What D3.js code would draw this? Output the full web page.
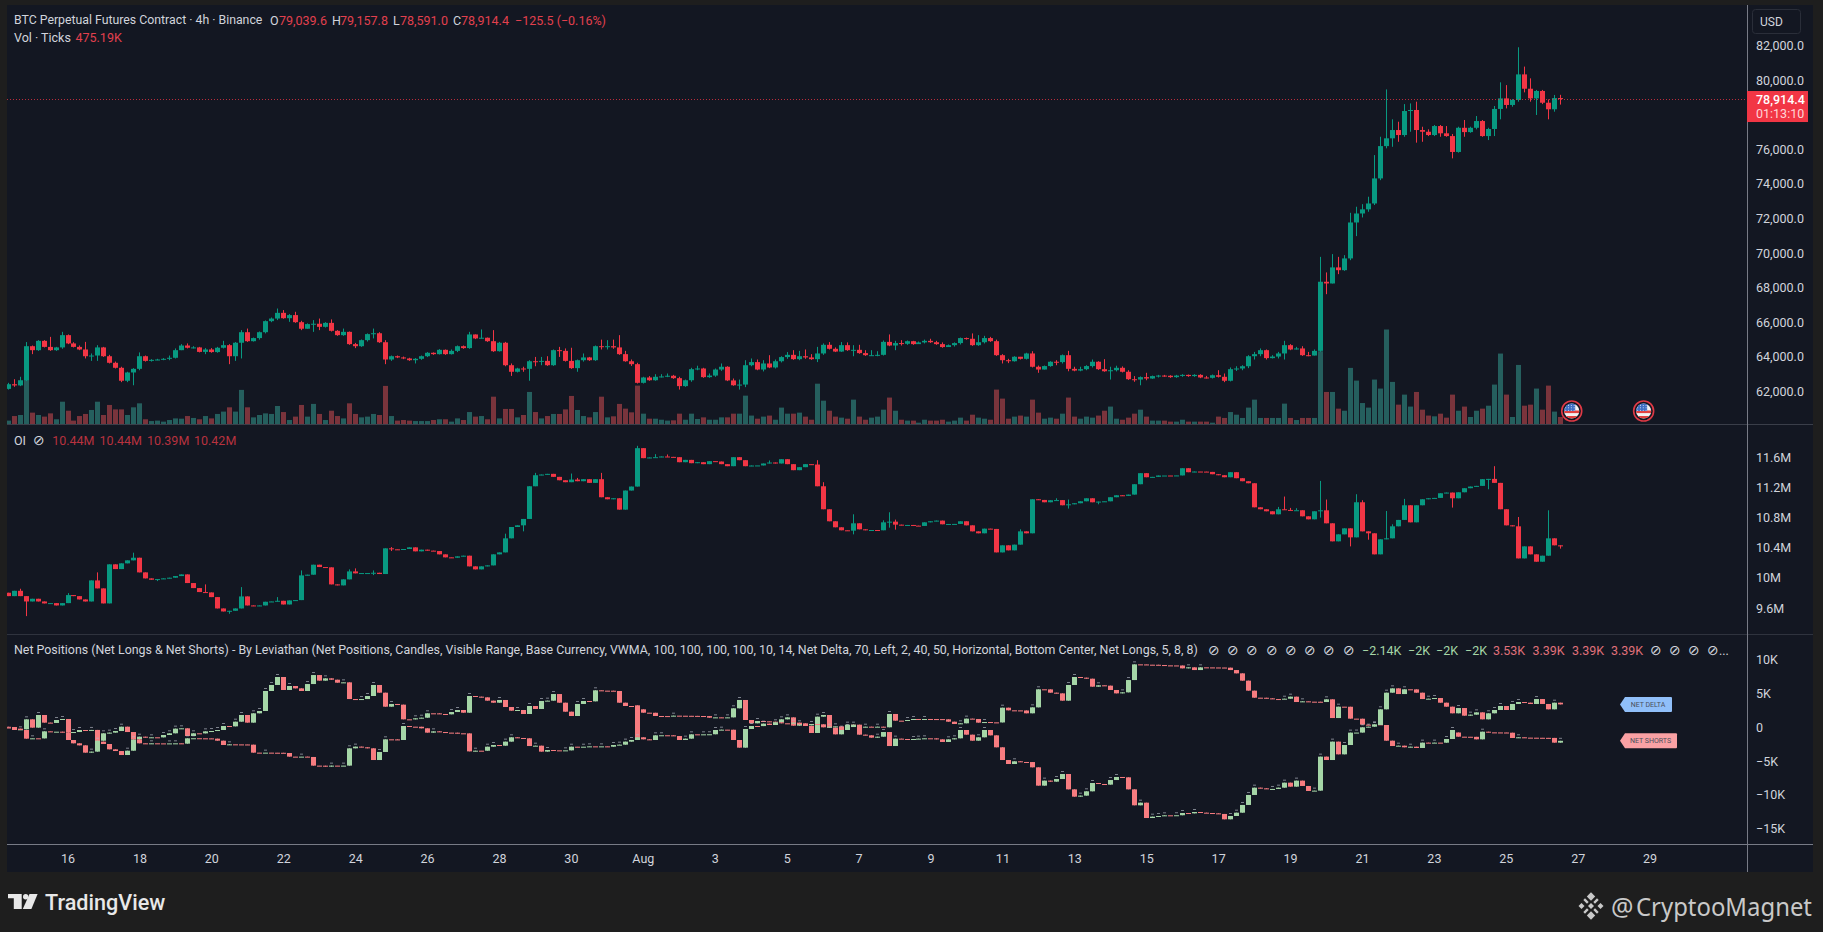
<!DOCTYPE html>
<html>
<head>
<meta charset="utf-8">
<script src="https://cdnjs.cloudflare.com/ajax/libs/d3/7.8.5/d3.min.js"></script>
<style>
html,body{margin:0;padding:0;background:#1e1e1e;overflow:hidden;}
svg{display:block;}
text{font-family:"Roboto",sans-serif;}
</style>
</head>
<body>
<script>
// values, one entry per 4h bar (first bar Jul 14 08:00)
var priceFirstOpen = 62140;
var priceClose = [
62410,62340,62640,64610,64380,64920,64570,64380,64540,65250,64770,64570,64420,64030,64070,64540,64030,63650,63360,62610,
63090,63300,64030,63760,63820,63840,63880,63940,64380,64650,64520,64540,64280,64420,64270,64520,64670,64030,64810,65420,
64900,65080,65420,66060,66210,66540,66230,66410,66000,65620,65890,65910,65730,65960,65500,65250,65440,64730,64610,64960,
65310,65360,64840,63840,64030,63960,63900,63800,63880,64030,64230,64150,64400,64150,64340,64610,64500,65290,65060,65100,
64900,64320,64810,63510,63130,63320,63300,63740,63730,63760,63510,64380,64340,63760,63340,63800,63960,63800,64610,64570,
64610,64540,64150,63740,63570,62490,62800,62640,62840,62860,62900,62760,62300,62640,63280,63320,62820,62910,63260,63420,
62630,62350,62390,63510,63690,63260,63610,63380,63740,63980,64110,63860,64030,63960,63860,64190,64690,64460,64300,64670,
64380,64400,64210,64090,64090,64110,64860,64650,64790,64750,64900,64730,64830,64920,64840,64730,64560,64670,64790,65080,
65040,64670,64840,65080,64900,64090,63800,63740,64000,63880,64190,63420,63260,63460,63710,63690,64090,63300,63200,63280,
63460,63710,63280,63160,63220,63360,63130,62700,62680,62820,62740,62880,62910,62900,62820,62910,62950,62880,62950,62800,
62780,62930,62840,62610,63280,63320,63450,64030,64150,64380,63920,64010,64190,64670,64420,64480,64090,64070,64340,68340,
68240,69170,69010,69690,71770,72290,72530,72870,74320,76190,76640,77120,76830,78220,78280,77120,77020,76830,77350,76930,
76770,75850,77250,77000,77250,77640,76770,77180,78340,78950,78570,78860,80340,79510,78950,79380,78700,78320,78970,78914.4
];
var priceHigh = [
62490,62700,62840,64850,64650,64960,64960,65150,64570,65440,65290,64840,64650,64860,64190,64670,64570,64110,63720,63420,
63130,63340,64250,64070,63860,63880,63920,64070,64480,64730,64770,64610,64570,64500,64500,64570,64920,64730,64850,65540,
65630,65110,65460,66100,66270,66790,66700,66470,66600,66080,65930,66120,66210,66000,66160,65540,65630,65460,64800,65000,
65350,65630,65420,64960,64070,64070,64010,63940,63920,64070,64270,64250,64440,64420,64420,64650,64650,65440,65290,65580,
65110,65540,64860,64860,63610,63360,63420,63800,63990,63990,64030,64420,64570,64480,64520,63840,64190,63990,64650,64990,
64960,64990,65250,64340,63840,63650,62840,62880,62990,62990,63030,62950,62840,62680,63360,63480,63360,63030,63320,63610,
63450,62740,62680,63800,63900,63840,63800,64090,63840,64030,64270,64380,64340,64420,64150,64570,64770,64850,64540,64850,
64830,64670,64690,64380,64380,64320,64940,65290,64920,64960,64940,64920,64880,64990,65040,64920,64830,64710,64830,65110,
65110,65350,65250,65210,65150,64990,64150,63880,64030,63990,64230,64320,63490,63490,63740,63800,64130,64340,63420,63420,
63510,63840,63740,63860,63420,63480,63440,63220,62880,62860,63070,62910,62950,62950,62930,62950,62990,62970,62990,62990,
62890,62970,63220,63030,63380,63450,63510,64090,64280,64480,64420,64090,64280,64920,64730,64570,64610,64280,64420,69780,
68880,69940,69780,69880,72330,72680,72830,73260,75670,76730,79470,77740,77600,78620,78660,78760,77310,77160,77410,77410,
77350,76890,77310,77700,77310,77930,77700,77250,78510,79880,79720,78910,81910,80790,80110,79440,79440,78890,79150,79157.8
];
var priceLow = [
62100,62260,62300,62590,64150,64340,64540,64340,64340,64460,64730,64540,64380,63900,63760,63760,63990,63610,63320,62530,
62530,62350,63220,63720,63720,63800,63800,63800,63900,64380,64480,64480,64250,64150,64230,64230,64480,63570,63760,63900,
64860,64880,64990,65350,66000,66120,66200,66020,65960,65540,65620,65440,65540,65690,65460,65210,65210,64690,64500,64570,
64880,65060,64800,63570,63760,63920,63860,63760,63610,63820,63980,64110,64130,64110,64130,64270,64460,64460,65020,65060,
64860,64280,64300,63450,62890,63090,63130,62610,63450,63510,63470,63470,63990,63720,63300,63130,63720,63760,63760,64420,
64420,64460,64110,63710,63470,62450,62450,62610,62610,62800,62820,62720,62100,62260,62550,63220,62780,62780,62840,63180,
62590,62320,62100,62240,63450,63220,63150,63340,63320,63670,63880,63820,63800,63880,63820,63690,64110,64420,64270,64280,
64340,64030,64170,64050,64050,64030,64070,64610,64380,64650,64690,64690,64770,64770,64800,64690,64520,64570,64590,64710,
64990,64630,64630,64770,64860,64050,63610,63630,63720,63840,63840,63380,63070,63260,63420,63510,63610,63160,63160,63160,
63220,63380,63240,63130,62680,63150,63090,62660,62550,62350,62640,62720,62800,62840,62780,62780,62840,62840,62840,62760,
62740,62740,62800,62530,62570,63180,63220,63340,63840,64030,63840,63900,63900,63840,64380,64420,64050,64030,64070,64290,
67620,68240,68780,68970,69590,70980,72060,72390,72780,74220,76060,76150,76440,76730,77020,76390,76440,76770,76770,76730,
76730,75480,75810,76730,76960,77160,76730,76540,76770,77740,78370,78470,78760,79300,78760,77990,78620,77740,78180,78591.0
];
// volume in thousands of ticks
var volumes = [
230,540,610,2980,770,610,500,720,320,1510,900,230,540,680,950,1510,610,1290,990,990,
610,1130,1400,320,200,230,160,270,380,360,540,410,320,540,380,680,840,1130,840,2310,
1130,450,610,720,680,1220,810,270,500,1290,500,1360,680,270,900,540,380,1400,680,450,
500,680,610,2580,540,230,270,230,200,200,200,270,320,320,160,380,270,810,500,540,
320,1850,380,1020,1020,450,610,2170,810,380,540,680,680,990,1900,950,540,450,810,1850,
450,520,1360,1040,790,2600,700,360,360,290,230,250,700,290,700,340,450,290,290,450,
450,700,700,1920,570,360,500,570,290,1110,700,700,770,500,290,2730,1580,900,500,430,
360,1650,500,290,430,500,970,1790,900,290,230,230,90,290,230,230,290,160,230,430,
230,630,430,360,290,2330,1720,360,500,570,500,1650,770,360,430,360,700,1790,500,360,
500,430,570,900,1180,360,290,430,700,970,500,230,230,230,160,160,290,160,160,160,
160,90,500,410,810,630,410,1110,1650,410,410,410,410,1380,410,270,410,410,410,4930,
2170,2170,1040,900,3800,2940,1420,1110,3010,2400,6400,2850,1310,1990,1180,2170,970,570,520,700,
430,1990,900,1180,475,900,1040,1240,2670,4770,1990,475,4000,1240,1310,2400,970,2600,840,475
];
// open interest in millions
var oiFirstOpen = 9.803;
var oiClose = [
9.758,9.829,9.758,9.687,9.723,9.687,9.661,9.665,9.634,9.665,9.772,9.758,9.714,9.687,9.967,9.861,9.661,10.181,10.118,10.194,
10.234,10.269,10.074,9.994,9.976,9.985,9.994,10.003,10.025,10.047,9.932,9.865,9.812,9.807,9.745,9.594,9.554,9.563,9.594,9.754,
9.634,9.625,9.634,9.683,9.687,9.696,9.647,9.701,9.705,10.034,10.043,10.176,10.145,10.141,9.914,9.901,9.981,10.087,10.061,10.065,
10.065,10.069,10.052,10.394,10.381,10.376,10.385,10.407,10.354,10.376,10.363,10.358,10.314,10.274,10.269,10.287,10.296,10.154,10.114,10.154,
10.167,10.314,10.340,10.527,10.678,10.700,10.785,11.220,11.367,11.376,11.385,11.345,11.300,11.274,11.309,11.287,11.314,11.265,11.314,11.074,
11.047,11.060,10.909,11.163,11.216,11.727,11.594,11.603,11.607,11.616,11.611,11.607,11.540,11.571,11.527,11.540,11.514,11.554,11.549,11.514,
11.487,11.607,11.567,11.487,11.496,11.497,11.523,11.536,11.523,11.580,11.514,11.434,11.474,11.514,11.509,11.220,10.914,10.754,10.674,10.634,
10.629,10.727,10.647,10.634,10.638,10.634,10.740,10.749,10.709,10.700,10.705,10.696,10.692,10.740,10.754,10.763,10.714,10.718,10.719,10.754,
10.700,10.620,10.594,10.656,10.652,10.340,10.434,10.367,10.443,10.620,10.594,11.047,11.038,11.007,11.034,11.036,10.967,10.980,10.994,11.020,
11.060,11.007,11.016,11.020,11.074,11.100,11.092,11.109,11.247,11.394,11.340,11.345,11.363,11.363,11.362,11.364,11.460,11.407,11.416,11.415,
11.411,11.380,11.367,11.340,11.407,11.327,11.287,11.260,10.940,10.914,10.887,10.847,10.914,10.905,10.900,10.901,10.820,10.780,10.887,10.900,
10.727,10.487,10.580,10.660,10.540,11.007,10.620,10.594,10.314,10.514,10.527,10.687,10.772,10.967,10.740,10.967,11.047,11.060,11.065,11.127,
11.136,11.060,11.140,11.194,11.216,11.225,11.314,11.318,11.265,10.914,10.700,10.687,10.260,10.420,10.314,10.216,10.296,10.527,10.434,10.420
];
// only bars with a visible wick: [bar, value]
var oiHighWicks = [[2,9.856],[10,9.798],[15,10.074],[21,10.336],[33,9.914],[39,9.878],[45,9.745],[49,10.100],[57,10.114],[58,10.127],[61,10.100],[64,10.411],[83,10.589],[88,11.398],[94,11.389],[95,11.331],[99,11.398],[105,11.758],[108,11.647],[110,11.643],[127,11.563],[135,11.567],[136,11.274],[141,10.847],[146,10.767],[147,10.874],[148,10.776],[169,10.647],[175,11.060],[177,11.043],[212,10.945],[213,11.083],[214,10.932],[215,10.928],[219,11.291],[220,11.043],[225,11.114],[226,11.034],[230,10.891],[231,10.714],[233,11.052],[248,11.487],[252,10.811],[257,10.900]];
var oiLowWicks = [[3,9.492],[25,9.958],[37,9.523],[61,10.038],[64,10.358],[86,10.620],[141,10.580],[147,10.669],[148,10.643],[177,10.923],[182,10.980],[219,10.803],[224,10.420],[227,10.509],[241,10.936],[247,11.180],[259,10.390]];
// net position indicator, two candle series
var netShortsFirstOpen = 80;
var netShortsClose = [
40,-400,-300,1180,-50,1820,690,640,1080,1230,-750,-700,-400,-450,-390,-2120,-2470,-3260,-3510,-4100,
-3460,-1780,-1390,-1530,-1480,-1490,-1140,-890,-200,-150,-1290,-890,-900,-600,-550,-400,190,140,830,1820,
690,2070,2410,5370,6260,7440,5520,6110,5760,5370,6400,7730,6900,7240,7040,6600,6650,4180,4040,4180,
4630,6260,5120,3050,3450,3350,1180,1170,1330,1420,2070,2060,1970,1920,2260,2560,2160,4630,4530,4430,
3940,3640,4040,3000,2460,2560,1970,3150,2710,3890,3940,4920,3640,2310,1670,3450,3890,3840,5470,5420,
5410,5370,3640,3150,3140,-1630,2160,2150,1670,1660,1650,1720,1710,1700,1690,1670,1660,1420,1470,1420,
1470,2810,4040,1080,590,930,880,830,730,1180,1470,240,590,190,-840,1570,1820,-50,-1040,-200,
390,190,0,90,40,90,0,1970,980,970,1080,1230,1180,1230,1220,1210,1180,830,490,590,
1280,1230,690,780,730,720,2900,2510,2500,2490,2070,2950,5620,5610,5120,5020,3940,6260,7440,7340,
7190,6010,6210,6160,5520,5020,5170,6990,9310,9300,9260,9250,9210,9160,9150,9140,8720,8870,8470,8870,
8860,8850,8840,8820,8470,7980,6900,5420,4380,4370,4280,4180,4170,4230,4530,3740,3840,3790,3780,3740,
4140,1370,3050,3040,1280,1270,390,340,440,340,-1980,-2770,-2720,-2960,-2870,-3060,-2270,-2320,-2270,-2280,
-1730,-400,-1390,-1400,-1410,-1780,-650,-750,-760,-770,-800,-1580,-1480,-1530,-1540,-1550,-1560,-1570,-2270,-2000
];
var netShortsOpenBreaks = [[105,3250],[106,2660],[241,-1730],[242,-770]];
var netDeltaFirstOpen = -30;
var netDeltaClose = [
-50,-200,-400,-1680,-1630,-1640,-600,-650,-650,-750,-1880,-2370,-2670,-3750,-3600,-1980,-890,-790,-550,90,
-700,-1780,-2370,-2420,-2370,-2380,-2390,-2380,-2370,-2420,-1630,-1620,-1630,-1640,-1680,-1980,-2620,-2520,-2530,-2540,
-2570,-3750,-3760,-3750,-3760,-3770,-3800,-4340,-4350,-4340,-4390,-5670,-5680,-5820,-5670,-5680,-5670,-3110,-2860,-2960,
-3110,-4840,-3650,-1780,-1790,-1880,190,90,80,-150,-790,-600,-700,-790,-800,-890,-900,-3560,-3460,-3470,
-2870,-2620,-2720,-2120,-1480,-1580,-1630,-2770,-2720,-3600,-3360,-3410,-3420,-3410,-2870,-2880,-2870,-2820,-2830,-2820,
-2870,-2620,-2570,-2120,-1880,-1480,-1780,-1880,-1190,-1180,-1190,-1290,-1880,-1680,-1040,-1050,-1040,-1030,-400,-350,
-360,-1880,-3010,-250,190,180,540,340,740,590,580,690,440,290,490,440,0,90,140,-400,
40,390,-1090,-1190,-1530,-1390,-700,-2770,-1680,-1730,-1780,-1730,-1680,-1630,-1640,-1780,-2170,-1780,-1630,-400,
-1090,-1980,-1480,-400,-1190,-2960,-4840,-5430,-5030,-5130,-5140,-5920,-8630,-7890,-8040,-7650,-6910,-9180,-10260,-10110,
-9470,-8240,-8390,-8480,-7800,-7350,-7400,-9180,-11540,-11150,-13420,-13220,-13120,-13020,-13030,-13010,-12680,-12730,-12530,-12630,
-12680,-12730,-12820,-13610,-13120,-12630,-11490,-10010,-8930,-9030,-9130,-9120,-8930,-8190,-8780,-7890,-8680,-9420,-9370,-4340,
-4840,-2120,-4000,-2620,-790,-780,0,90,340,2660,5120,5760,4920,5620,5610,5120,4180,4230,4330,3640,
3050,2070,2850,1720,1870,2210,1180,2070,2560,3150,2560,3450,3740,3640,3450,4180,3450,2660,3640,3390
];
var priceTicks = [62000,64000,66000,68000,70000,72000,74000,76000,78000,80000,82000];
var priceTickHidden = 78000;
var oiTicks = [9.6,10,10.4,10.8,11.2,11.6];
var oiTickLabels = ["9.6M","10M","10.4M","10.8M","11.2M","11.6M"];
var netTicks = [-15000,-10000,-5000,0,5000,10000];
var netTickLabels = ["\u221215K","\u221210K","\u22125K","0","5K","10K"];
var dayTickDates = ["07-16","07-18","07-20","07-22","07-24","07-26","07-28","07-30","08-01","08-03","08-05","08-07","08-09","08-11","08-13","08-15","08-17","08-19","08-21","08-23","08-25","08-27","08-29"];
var dayTickLabels = ["16","18","20","22","24","26","28","30","Aug","3","5","7","9","11","13","15","17","19","21","23","25","27","29"];
var eventDates = ["08-26T20:00","08-28T20:00"];
var lastPrice = 78914.4;
var netMarkers = [{name:"NET DELTA",value:3390,fill:"#90bff9"},{name:"NET SHORTS",value:-2000,fill:"#faa1a4"}];

var width = 1823, height = 932;
var paneL = 7, paneT = 5, axisX = 1747, paneR = 1813, timeT = 844, paneB = 872;
var priceB = 424, oiB = 634;
var upColor = "#089981", downColor = "#f23645";
var netUp = "#a5d6a7", netDown = "#f77c80";

var svg = d3.select("body").append("svg")
    .attr("width", width).attr("height", height);

svg.append("rect").attr("width", width).attr("height", height).attr("fill", "#1e1e1e");
svg.append("rect").attr("x", paneL).attr("y", paneT).attr("width", paneR - paneL).attr("height", paneB - paneT).attr("fill", "#131722");

svg.append("defs").append("clipPath").attr("id", "plotClip")
    .append("rect").attr("x", paneL).attr("y", paneT).attr("width", axisX - paneL).attr("height", timeT - paneT);

function parseDay(s){
    return new Date(Date.parse("2025-" + s.replace(/^(\d\d-\d\d)$/, "$1T00:00") + ":00Z"));
}
var startDate = new Date(Date.UTC(2025, 6, 14, 8));
var barDates = d3.range(priceClose.length).map(function(i){ return d3.utcHour.offset(startDate, 4 * i); });

// x range from the 16th and the 25th tick
var xScale = d3.scaleUtc()
    .domain([parseDay("07-16"), parseDay("08-25")])
    .range([67.5, 1505.8]);
var priceY = d3.scaleLinear().domain([62000, 82000]).range([391.3, 45.7]);
var volY = d3.scaleLinear().domain([0, d3.max(volumes)]).range([priceB, priceB - 94.5]);
var oiY = d3.scaleLinear().domain([9.6, 11.6]).range([608, 457.7]);
var netY = d3.scaleLinear().domain([-15000, 10000]).range([828.7, 659.7]);

function makeRows(closes, firstOpen, highs, lows, highWicks, lowWicks, openBreaks){
    var hi = new Map(highWicks || []), lo = new Map(lowWicks || []), br = new Map(openBreaks || []);
    return closes.map(function(c, i){
        var o = br.has(i) ? br.get(i) : (i == 0 ? firstOpen : closes[i - 1]);
        var h = highs ? highs[i] : (hi.has(i) ? hi.get(i) : Math.max(o, c));
        var l = lows ? lows[i] : (lo.has(i) ? lo.get(i) : Math.min(o, c));
        return {i: i, date: barDates[i], o: o, c: c, h: h, l: l};
    });
}

var plot = svg.append("g").attr("clip-path", "url(#plotClip)");

function drawCandles(cls, rows, y, up, down, bodyW){
    var g = plot.append("g").attr("class", cls);
    function color(d){ return d.c >= d.o ? up : down; }
    g.selectAll("line").data(rows).enter().append("line")
        .attr("x1", function(d){ return Math.round(xScale(d.date)) + 0.5; })
        .attr("x2", function(d){ return Math.round(xScale(d.date)) + 0.5; })
        .attr("y1", function(d){ return y(d.h); })
        .attr("y2", function(d){ return y(d.l); })
        .attr("stroke", color).attr("stroke-width", 1);
    g.selectAll("rect").data(rows).enter().append("rect")
        .attr("x", function(d){ return Math.round(xScale(d.date)) + 0.5 - bodyW / 2; })
        .attr("width", bodyW)
        .attr("y", function(d){ return y(Math.max(d.o, d.c)); })
        .attr("height", function(d){ return Math.max(1, Math.abs(y(d.o) - y(d.c))); })
        .attr("fill", color);
    return g;
}

// volume sits under the price candles
var priceRows = makeRows(priceClose, priceFirstOpen, priceHigh, priceLow);
plot.append("g").selectAll("rect").data(priceRows).enter().append("rect")
    .attr("x", function(d){ return Math.round(xScale(d.date)) - 2; })
    .attr("width", 5)
    .attr("y", function(d){ return volY(volumes[d.i]); })
    .attr("height", function(d){ return priceB - volY(volumes[d.i]); })
    .attr("fill", function(d){ return d.c >= d.o ? "#255f5e" : "#7a343c"; });

// dotted last price line
svg.append("line")
    .attr("x1", paneL).attr("x2", axisX)
    .attr("y1", Math.round(priceY(lastPrice)) + 0.5).attr("y2", Math.round(priceY(lastPrice)) + 0.5)
    .attr("stroke", downColor).attr("stroke-opacity", 0.75).attr("stroke-dasharray", "1 2");

drawCandles("price", priceRows, priceY, upColor, downColor, 5);
drawCandles("oi", makeRows(oiClose, oiFirstOpen, null, null, oiHighWicks, oiLowWicks), oiY, upColor, downColor, 5);

var netA = makeRows(netShortsClose, netShortsFirstOpen, null, null, null, null, netShortsOpenBreaks);
var netB = makeRows(netDeltaClose, netDeltaFirstOpen);
drawCandles("net-shorts", netA, netY, netUp, netDown, 5);
drawCandles("net-delta", netB, netY, netUp, netDown, 5);

// the indicator leaves a tiny dash over its up candles
plot.append("g").selectAll("rect")
    .data(netA.concat(netB).filter(function(d){ return d.c > d.o; }))
    .enter().append("rect")
    .attr("x", function(d){ return Math.round(xScale(d.date)) - 1; })
    .attr("width", 3).attr("height", 1)
    .attr("y", function(d){ return netY(d.c) - 3; })
    .attr("fill", "#b5bac4").attr("opacity", 0.65);

// pane borders
function hline(y, col){
    svg.append("line").attr("x1", paneL).attr("x2", paneR).attr("y1", y + 0.5).attr("y2", y + 0.5).attr("stroke", col);
}
hline(priceB, "#3a3e49");
hline(oiB, "#2f333e");
hline(timeT, "#787b86");
svg.append("line").attr("x1", axisX + 0.5).attr("x2", axisX + 0.5).attr("y1", paneT).attr("y2", paneB).attr("stroke", "#787b86");

// axes
function styleAxis(g){
    g.select(".domain").remove();
    g.selectAll("line").remove();
    g.selectAll("text").attr("fill", "#d1d4dc").attr("font-size", 12.5);
}
svg.append("g").attr("transform", "translate(0," + timeT + ")")
    .call(d3.axisBottom(xScale).tickValues(dayTickDates.map(parseDay)).tickSize(0).tickPadding(0)
        .tickFormat(function(d, i){ return dayTickLabels[i]; }))
    .call(styleAxis)
    .selectAll("text").attr("y", 14).attr("dy", "0.36em");

function yAxis(scale, ticks, labels){
    svg.append("g").attr("transform", "translate(" + axisX + ",0)")
        .call(d3.axisRight(scale).tickValues(ticks).tickSize(0).tickPadding(9)
            .tickFormat(function(d, i){ return labels(d, i); }))
        .call(styleAxis);
}
var priceFormat = d3.format(",.1f");
yAxis(priceY, priceTicks.filter(function(t){ return t != priceTickHidden; }), function(d){ return priceFormat(d); });
yAxis(oiY, oiTicks, function(d, i){ return oiTickLabels[i]; });
yAxis(netY, netTicks, function(d, i){ return netTickLabels[i]; });

// last price tag
var tagY = priceY(lastPrice);
svg.append("rect").attr("x", axisX).attr("y", tagY - 8).attr("width", 61).attr("height", 31).attr("fill", downColor);
svg.append("text").attr("x", axisX + 9).attr("y", tagY + 0.5).attr("dy", "0.36em").attr("fill", "#fff").attr("font-size", 12.5).attr("font-weight", 500).text(priceFormat(lastPrice));
svg.append("text").attr("x", axisX + 9).attr("y", tagY + 14).attr("dy", "0.36em").attr("fill", "#ffd5d8").attr("font-size", 12.5).text("01:13:10");

// USD box
svg.append("rect").attr("x", 1752.5).attr("y", 9.5).attr("width", 48).attr("height", 24).attr("rx", 3).attr("fill", "#131722").attr("stroke", "#2a2e39");
svg.append("text").attr("x", 1760).attr("y", 21.5).attr("dy", "0.36em").attr("fill", "#d1d4dc").attr("font-size", 12).text("USD");

// header rows
function txt(x, y, s, col, size, family){
    var t = svg.append("text").attr("x", x).attr("y", y).attr("dy", "0.36em")
        .attr("fill", col).attr("font-size", size || 12.5).text(s);
    if (family) t.style("font-family", family);
    return t;
}
var lbl = "#d1d4dc", hdrRed = "#e2404e", dimRed = "#b8323f";
txt(14, 20, "BTC Perpetual Futures Contract \u00b7 4h \u00b7 Binance", lbl, 12.3);
txt(270, 20, "O", lbl); txt(279, 20, "79,039.6", hdrRed);
txt(332, 20, "H", lbl); txt(340, 20, "79,157.8", hdrRed);
txt(393, 20, "L", lbl); txt(400, 20, "78,591.0", hdrRed);
txt(453, 20, "C", lbl); txt(461, 20, "78,914.4", hdrRed);
txt(515, 20, "\u2212125.5 (\u22120.16%)", hdrRed);
txt(14, 37, "Vol \u00b7 Ticks", lbl);
txt(75.5, 37, "475.19K", hdrRed);

txt(14, 440, "OI", lbl);
txt(33, 440, "\u2298", lbl, 14, "DejaVu Sans");
[[52.2,"10.44M"],[99.6,"10.44M"],[147,"10.39M"],[194,"10.42M"]].forEach(function(p){ txt(p[0], 440, p[1], dimRed); });

txt(14, 650, "Net Positions (Net Longs & Net Shorts) - By Leviathan (Net Positions, Candles, Visible Range, Base Currency, VWMA, 100, 100, 100, 100, 10, 14, Net Delta, 70, Left, 2, 40, 50, Horizontal, Bottom Center, Net Longs, 5, 8, 8)", lbl, 12.4);
[1208,1227,1246,1266,1285,1304,1323,1343,1650,1669,1688,1707].forEach(function(x){ txt(x, 650, "\u2298", lbl, 14, "DejaVu Sans"); });
txt(1719, 650, "...", lbl);
[[1362,"\u22122.14K"],[1408,"\u22122K"],[1436,"\u22122K"],[1465,"\u22122K"]].forEach(function(p){ txt(p[0], 650, p[1], netUp); });
[[1493,"3.53K"],[1532.5,"3.39K"],[1572,"3.39K"],[1611,"3.39K"]].forEach(function(p){ txt(p[0], 650, p[1], "#e0717a"); });

// net markers right of the bars
var markerX = 1620;
var markerW = {"NET DELTA": 46, "NET SHORTS": 51};
netMarkers.forEach(function(m){
    var my = netY(m.value), w = markerW[m.name];
    svg.append("path")
        .attr("d", "M" + markerX + "," + my + "l5,-7.5h" + w + "a1,1 0 0 1 1,1v13a1,1 0 0 1 -1,1h-" + w + "z")
        .attr("fill", m.fill);
    svg.append("text").attr("x", markerX + 5 + w / 2).attr("y", my).attr("dy", "0.36em")
        .attr("text-anchor", "middle").attr("font-size", 7).attr("fill", "#4a4f5c").text(m.name);
});

// economic event flags
eventDates.forEach(function(s, i){
    var ex = xScale(parseDay(s)), ey = 411;
    var g = svg.append("g").attr("transform", "translate(" + ex + "," + ey + ")");
    g.append("circle").attr("r", 10).attr("fill", "#131722").attr("stroke", "#e03a46").attr("stroke-width", 1.6);
    var id = "flagClip" + i;
    g.append("clipPath").attr("id", id).append("circle").attr("r", 7.6);
    var f = g.append("g").attr("clip-path", "url(#" + id + ")");
    f.append("rect").attr("x", -8).attr("y", -8).attr("width", 16).attr("height", 16).attr("fill", "#f2f2f2");
    [-0.5, 5].forEach(function(sy){ f.append("rect").attr("x", -8).attr("y", sy).attr("width", 16).attr("height", 2.6).attr("fill", "#e2413f"); });
    f.append("rect").attr("x", -8).attr("y", -8).attr("width", 11.5).attr("height", 8).attr("fill", "#3f6fc4");
    d3.range(3).forEach(function(a){ d3.range(4).forEach(function(b){
        f.append("circle").attr("cx", -6 + b * 2.8).attr("cy", -5.6 + a * 2.4).attr("r", 0.5).attr("fill", "#e8eefc");
    }); });
});

// footer: TradingView mark
var footer = svg.append("g").attr("fill", "#e8e8e8");
footer.append("path").attr("d", "M8,894h13.7v15h-7.9v-10.7h-5.8z");
footer.append("circle").attr("cx", 25.7).attr("cy", 896.7).attr("r", 2.7);
footer.append("path").attr("d", "M29.5,894h8.1l-6.2,15h-8.6z");
footer.append("text").attr("x", 45).attr("y", 902).attr("dy", "0.36em")
    .attr("font-size", 21.6).attr("font-weight", 500).text("TradingView");

// footer: watermark
var wm = svg.append("g").attr("fill", "#c9c9c9").attr("transform", "translate(1591,906)");
[[0,-9.5,4.2],[-9.5,0,3],[9.5,0,3],[0,9.5,4.2],[0,0,3]].forEach(function(p){
    wm.append("path").attr("d", "M" + p[0] + "," + (p[1] - p[2]) + "l" + p[2] + "," + p[2] + "l" + (-p[2]) + "," + p[2] + "l" + (-p[2]) + "," + (-p[2]) + "z");
});
[[-5,-5],[5,-5],[-5,5],[5,5]].forEach(function(p){
    wm.append("rect").attr("x", p[0] - 2.6).attr("y", p[1] - 1.2).attr("width", 5.2).attr("height", 2.4)
        .attr("transform", "rotate(" + (p[0] * p[1] > 0 ? 45 : -45) + " " + p[0] + " " + p[1] + ")");
});
svg.append("text").attr("x", 1611).attr("y", 907).attr("dy", "0.36em").attr("font-size", 25).attr("fill", "#c9c9c9")
    .style("font-family", "Noto Sans").text("@");
svg.append("text").attr("x", 1636).attr("y", 907).attr("dy", "0.36em").attr("font-size", 25).attr("fill", "#c9c9c9")
    .attr("textLength", 176).attr("lengthAdjust", "spacingAndGlyphs")
    .style("font-family", "Noto Sans").text("CryptooMagnet");
</script>
</body>
</html>
